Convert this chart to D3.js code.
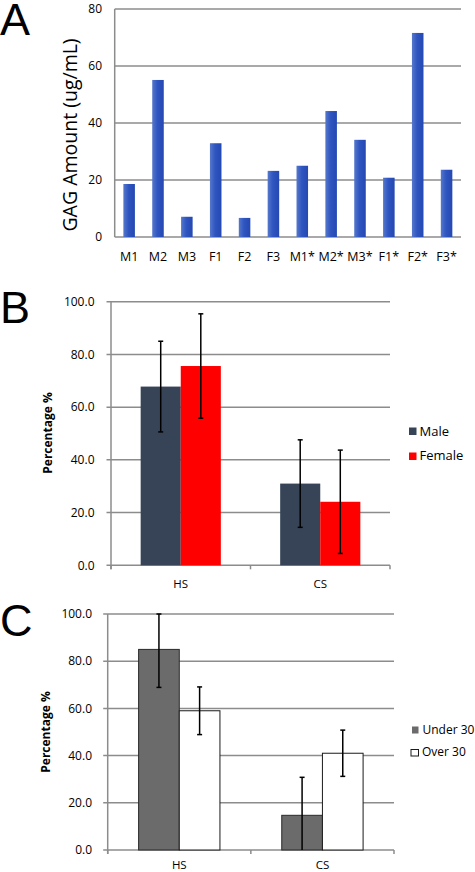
<!DOCTYPE html>
<html><head><meta charset="utf-8">
<script src="https://cdn.jsdelivr.net/npm/d3@7"></script>
<style>html,body{margin:0;padding:0;background:#fff;}svg{display:block;}</style>
</head><body>
<script>
// ---------- DATA ----------
const samplesA = ["M1","M2","M3","F1","F2","F3","M1*","M2*","M3*","F1*","F2*","F3*"];
const gagValues = [18.6,55.1,7.1,32.9,6.7,23.2,25.0,44.2,34.1,20.8,71.6,23.6];
const ticksA = [0,20,40,60,80];

const groups = ["HS","CS"];
const seriesB = ["Male","Female"];
const maleMean = [67.8,31.0];
const maleErr = [17.2,16.6];
const femaleMean = [75.6,24.1];
const femaleErr = [19.8,19.6];

const seriesC = ["Under 30","Over 30"];
const under30Mean = [85.0,14.7];
const under30Err = [16.1,16.1];
const over30Mean = [59.0,41.0];
const over30Err = [10.1,9.8];
const ticksPct = [0,20,40,60,80,100];

// ---------- SVG ----------
const W=475,H=872;
const svg=d3.select("body").append("svg").attr("width",W).attr("height",H);
svg.append("rect").attr("width",W).attr("height",H).attr("fill","#fff");
const FONT="'Open Sans', sans-serif";
const GRID="#8c8c8c";

// gradient for panel A bars
const defs=svg.append("defs");
const gr=defs.append("linearGradient").attr("id","gA").attr("x1",0).attr("x2",1).attr("y1",0).attr("y2",0);
gr.append("stop").attr("offset","0%").attr("stop-color","#5678cc");
gr.append("stop").attr("offset","45%").attr("stop-color","#2f55c0");
gr.append("stop").attr("offset","100%").attr("stop-color","#2548b2");

function panelLetter(t,x,y){
  svg.append("text").attr("x",x).attr("y",y).text(t)
    .attr("font-family","'Liberation Sans', Arial, sans-serif").attr("font-size",45).attr("fill","#000");
}

// ---------- PANEL A ----------
(function(){
  const x=d3.scaleBand().domain(samplesA).range([114.7,461]).paddingInner(0.6).paddingOuter(0.3);
  const y=d3.scaleLinear().domain([0,80]).range([237,9]);
  const g=svg.append("g");
  g.selectAll("line.grid").data(ticksA).join("line")
    .attr("x1",114.7).attr("x2",461).attr("y1",d=>y(d)).attr("y2",d=>y(d))
    .attr("stroke",GRID).attr("stroke-width",1.5);
  g.append("line").attr("x1",114.7).attr("x2",114.7).attr("y1",y(80)).attr("y2",y(0))
    .attr("stroke",GRID).attr("stroke-width",1.5);
  g.selectAll("rect.bar").data(gagValues).join("rect")
    .attr("x",(d,i)=>x(samplesA[i])).attr("width",x.bandwidth())
    .attr("y",d=>y(d)).attr("height",d=>y(0)-y(d))
    .attr("fill","url(#gA)");
  g.selectAll("text.tick").data(ticksA).join("text")
    .attr("x",102).attr("y",d=>y(d)).attr("dy","0.35em").attr("text-anchor","end")
    .attr("font-family",FONT).attr("font-size",12).attr("fill","#000").text(d=>d);
  g.selectAll("text.xl").data(samplesA).join("text")
    .attr("x",d=>x(d)+x.bandwidth()/2).attr("y",256.5).attr("dy","0.35em").attr("text-anchor","middle")
    .attr("font-family",FONT).attr("font-size",12.5).attr("fill","#000").text(d=>d);
  g.append("text").attr("transform","translate(76.5,135) rotate(-90)").attr("text-anchor","middle")
    .attr("font-family",FONT).attr("font-size",19.5).attr("fill","#000").text("GAG Amount (ug/mL)");
  panelLetter("A",0,35);
})();

// ---------- grouped bar panel ----------
function groupedPanel(o){
  const x=d3.scaleBand().domain(groups).range([o.x0,o.x1]);
  const xi=d3.scaleBand().domain(o.series).range([0,x.bandwidth()]).paddingOuter(o.po);
  const y=d3.scaleLinear().domain([0,100]).range([o.y0,o.y1]);
  const g=svg.append("g");
  g.selectAll("line.grid").data(ticksPct).join("line")
    .attr("x1",o.x0-4.5).attr("x2",o.x1).attr("y1",d=>y(d)).attr("y2",d=>y(d))
    .attr("stroke",GRID).attr("stroke-width",1.5);
  g.append("line").attr("x1",o.x0).attr("x2",o.x0).attr("y1",y(100)).attr("y2",y(0)+4)
    .attr("stroke",GRID).attr("stroke-width",1.5);
  const bounds=[o.x0].concat(groups.map(d=>x(d)+x.bandwidth()));
  g.selectAll("line.xt").data(bounds).join("line")
    .attr("x1",d=>d).attr("x2",d=>d).attr("y1",y(0)).attr("y2",y(0)+4)
    .attr("stroke",GRID).attr("stroke-width",1.5);
  o.series.forEach((s,si)=>{
    const means=o.means[si];
    g.append("g").selectAll("rect").data(means).join("rect")
      .attr("x",(d,i)=>x(groups[i])+xi(s)).attr("width",xi.bandwidth())
      .attr("y",d=>y(d)).attr("height",d=>y(0)-y(d))
      .attr("fill",o.fills[si]).attr("stroke",o.strokes[si]).attr("stroke-width",o.sw);
  });
  o.series.forEach((s,si)=>{
    const means=o.means[si], errs=o.errs[si];
    means.forEach((m,i)=>{
      const cx=x(groups[i])+xi(s)+xi.bandwidth()/2;
      const hi=Math.min(100,m+errs[i]), lo=Math.max(0,m-errs[i]);
      g.append("line").attr("x1",cx).attr("x2",cx).attr("y1",y(hi)).attr("y2",y(lo)).attr("stroke","#000").attr("stroke-width",1.5);
      g.append("line").attr("x1",cx-2.5).attr("x2",cx+2.5).attr("y1",y(hi)).attr("y2",y(hi)).attr("stroke","#000").attr("stroke-width",1.5);
      if(m-errs[i]>=0) g.append("line").attr("x1",cx-2.5).attr("x2",cx+2.5).attr("y1",y(lo)).attr("y2",y(lo)).attr("stroke","#000").attr("stroke-width",1.5);
    });
  });
  g.selectAll("text.tick").data(ticksPct).join("text")
    .attr("x",o.tickX).attr("y",d=>y(d)).attr("dy","0.35em").attr("text-anchor","end")
    .attr("font-family",FONT).attr("font-size",12).attr("fill","#000").text(d=>d.toFixed(1));
  g.selectAll("text.xl").data(groups).join("text")
    .attr("x",d=>x(d)+x.bandwidth()/2).attr("y",o.xlY).attr("dy","0.35em").attr("text-anchor","middle")
    .attr("font-family",FONT).attr("font-size",11.5).attr("fill","#000").text(d=>d);
  g.append("text").attr("transform",`translate(${o.titleX},${o.titleY}) rotate(-90)`).attr("text-anchor","middle")
    .attr("font-family",FONT).attr("font-size",12).attr("font-weight","bold").attr("fill","#000").text("Percentage %");
  o.series.forEach((s,si)=>{
    const L=o.legend[si];
    g.append("rect").attr("x",L.sx).attr("y",L.sy).attr("width",L.sw).attr("height",L.sh)
      .attr("fill",o.fills[si]).attr("stroke",o.legendStroke[si]).attr("stroke-width",1);
    g.append("text").attr("x",L.tx).attr("y",L.ty).attr("dy","0.35em")
      .attr("font-family",FONT).attr("font-size",o.legendFont).attr("fill","#000").text(s);
  });
}

groupedPanel({
  series:seriesB, means:[maleMean,femaleMean], errs:[maleErr,femaleErr],
  x0:111,x1:390,y0:565.3,y1:301.7,po:0.74,
  fills:["#374457","#ff0000"], strokes:["none","none"], sw:0,
  tickX:94.5, xlY:583.5, titleX:52, titleY:433, legendFont:13,
  legend:[{sx:409.5,sy:428,sw:6.5,sh:6.5,tx:419.5,ty:431},{sx:409.5,sy:453,sw:6.5,sh:6.5,tx:419.5,ty:455.5}],
  legendStroke:["#374457","#ff0000"]
});
panelLetter("B",0,323);

groupedPanel({
  series:seriesC, means:[under30Mean,over30Mean], errs:[under30Err,over30Err],
  x0:107.7,x1:394,y0:850,y1:614,po:0.76,
  fills:["#6b6b6b","#ffffff"], strokes:["#2a2a2a","#1a1a1a"], sw:1,
  tickX:92, xlY:864.5, titleX:49.5, titleY:732, legendFont:12,
  legend:[{sx:412.5,sy:727,sw:5.5,sh:6,tx:422.5,ty:729.5},{sx:411,sy:749.5,sw:7.5,sh:6.5,tx:422,ty:752}],
  legendStroke:["#6b6b6b","#1a1a1a"]
});
panelLetter("C",0,636);
</script>
</body></html>
